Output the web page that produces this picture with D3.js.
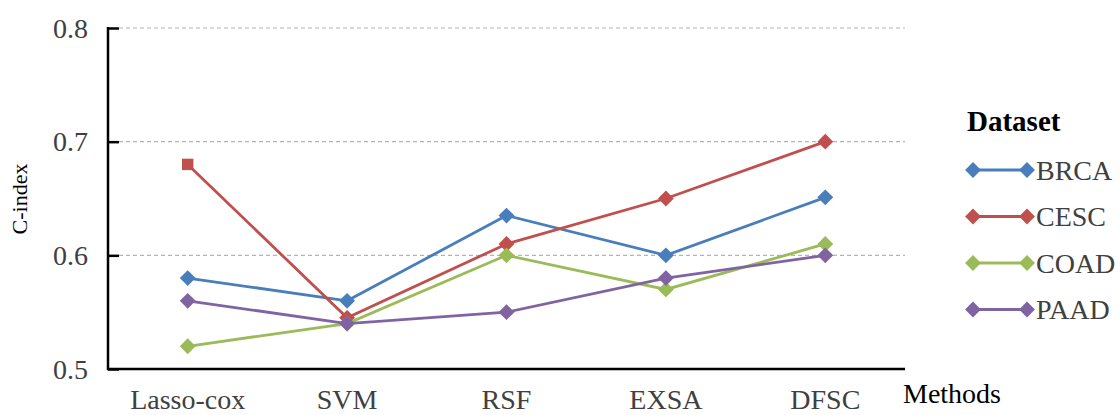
<!DOCTYPE html>
<html lang="en">
<head>
<meta charset="utf-8">
<title>C-index by method</title>
<script src="https://cdn.jsdelivr.net/npm/d3@7"></script>
<style>
  body { margin: 0; background: #fff; }
  text { font-family: "Liberation Serif", "Times New Roman", serif; }
</style>
</head>
<body>
<script>
var w = 1120, h = 415;

var methods = ["Lasso-cox", "SVM", "RSF", "EXSA", "DFSC"];
var datasets = ["BRCA", "CESC", "COAD", "PAAD"];
var brca = [0.58, 0.56, 0.635, 0.60, 0.651];
var cesc = [0.68, 0.545, 0.61, 0.65, 0.70];
var coad = [0.52, 0.54, 0.60, 0.57, 0.61];
var paad = [0.56, 0.54, 0.55, 0.58, 0.60];
var yTicks = [0.5, 0.6, 0.7, 0.8];

var seriesValues = [brca, cesc, coad, paad];
var colors = ["#4a7ebb", "#c0504d", "#9bbb59", "#8064a2"];

var mLeft = 108, mRight = 905, mTop = 28, mBottom = 369;

var x = d3.scaleBand().domain(methods).range([mLeft, mRight]);
var y = d3.scaleLinear().domain([0.5, 0.8]).range([mBottom, mTop]);

var svg = d3.select("body").append("svg")
  .attr("width", w).attr("height", h);

// gridlines
svg.append("g").selectAll("line")
  .data(yTicks.filter(function(t){ return t > 0.5; }))
  .enter().append("line")
  .attr("x1", mLeft + 11).attr("x2", mRight)
  .attr("y1", function(d){ return y(d); })
  .attr("y2", function(d){ return y(d); })
  .attr("stroke", "#b5b5b5").attr("stroke-width", 1.2)
  .attr("stroke-dasharray", "4,3");

// y axis (inward ticks)
var yAxis = d3.axisRight(y).tickValues(yTicks).tickSize(11).tickFormat("");
var ya = svg.append("g").attr("transform", "translate(" + mLeft + ",0)").call(yAxis);
ya.select(".domain").remove();
ya.selectAll("line").attr("stroke", "#000").attr("stroke-width", 2.5);
svg.append("line").attr("x1", mLeft).attr("x2", mLeft)
  .attr("y1", mTop - 1).attr("y2", mBottom + 1)
  .attr("stroke", "#000").attr("stroke-width", 2.5);

svg.append("g").selectAll("text")
  .data(yTicks).enter().append("text")
  .attr("x", 88).attr("y", function(d){ return y(d); })
  .attr("dy", "0.35em").attr("text-anchor", "end")
  .attr("font-size", 28).attr("fill", "#404040")
  .text(function(d){ return d3.format(".1f")(d); });

// x axis
svg.append("line").attr("x1", mLeft - 1).attr("x2", mRight)
  .attr("y1", mBottom).attr("y2", mBottom)
  .attr("stroke", "#000").attr("stroke-width", 2.5);

svg.append("g").selectAll("text")
  .data(methods).enter().append("text")
  .attr("x", function(d){ return x(d) + x.bandwidth() / 2; })
  .attr("y", 409).attr("text-anchor", "middle")
  .attr("font-size", 28).attr("fill", "#404040")
  .text(function(d){ return d; });

svg.append("text").attr("x", 903).attr("y", 403)
  .attr("font-size", 28).attr("fill", "#000").text("Methods");

svg.append("text")
  .attr("transform", "translate(27,199) rotate(-90)")
  .attr("text-anchor", "middle").attr("font-size", 22).attr("fill", "#000")
  .text("C-index");

// lines and markers
var line = d3.line()
  .x(function(d, i){ return x(methods[i]) + x.bandwidth() / 2; })
  .y(function(d){ return y(d); });

var diamond = d3.symbol().type(d3.symbolDiamond2).size(160);
var square = d3.symbol().type(d3.symbolSquare).size(130);

seriesValues.forEach(function(vals, s) {
  var g = svg.append("g");
  g.append("path").datum(vals)
    .attr("d", line).attr("fill", "none")
    .attr("stroke", colors[s]).attr("stroke-width", 2.8);
  g.selectAll("path.m").data(vals).enter().append("path")
    .attr("class", "m")
    .attr("transform", function(d, i){
      return "translate(" + (x(methods[i]) + x.bandwidth() / 2) + "," + y(d) + ")";
    })
    .attr("d", function(d, i){
      return (datasets[s] === "CESC" && i === 0) ? square() : diamond();
    })
    .attr("fill", colors[s]);
});

// legend
var lx1 = 973, lx2 = 1027;
svg.append("text").attr("x", 967).attr("y", 131)
  .attr("font-size", 29).attr("font-weight", "bold").attr("fill", "#000")
  .text("Dataset");

var leg = svg.append("g").selectAll("g")
  .data(datasets).enter().append("g")
  .attr("transform", function(d, i){ return "translate(0," + (170 + i * 46.5) + ")"; });
leg.append("line").attr("x1", lx1).attr("x2", lx2)
  .attr("stroke", function(d, i){ return colors[i]; }).attr("stroke-width", 2.8);
leg.append("path").attr("transform", "translate(" + lx1 + ",0)")
  .attr("d", diamond()).attr("fill", function(d, i){ return colors[i]; });
leg.append("path").attr("transform", "translate(" + lx2 + ",0)")
  .attr("d", diamond()).attr("fill", function(d, i){ return colors[i]; });
leg.append("text").attr("x", 1036).attr("dy", "0.35em")
  .attr("font-size", 28).attr("fill", "#404040")
  .text(function(d){ return d; });
</script>
</body>
</html>
